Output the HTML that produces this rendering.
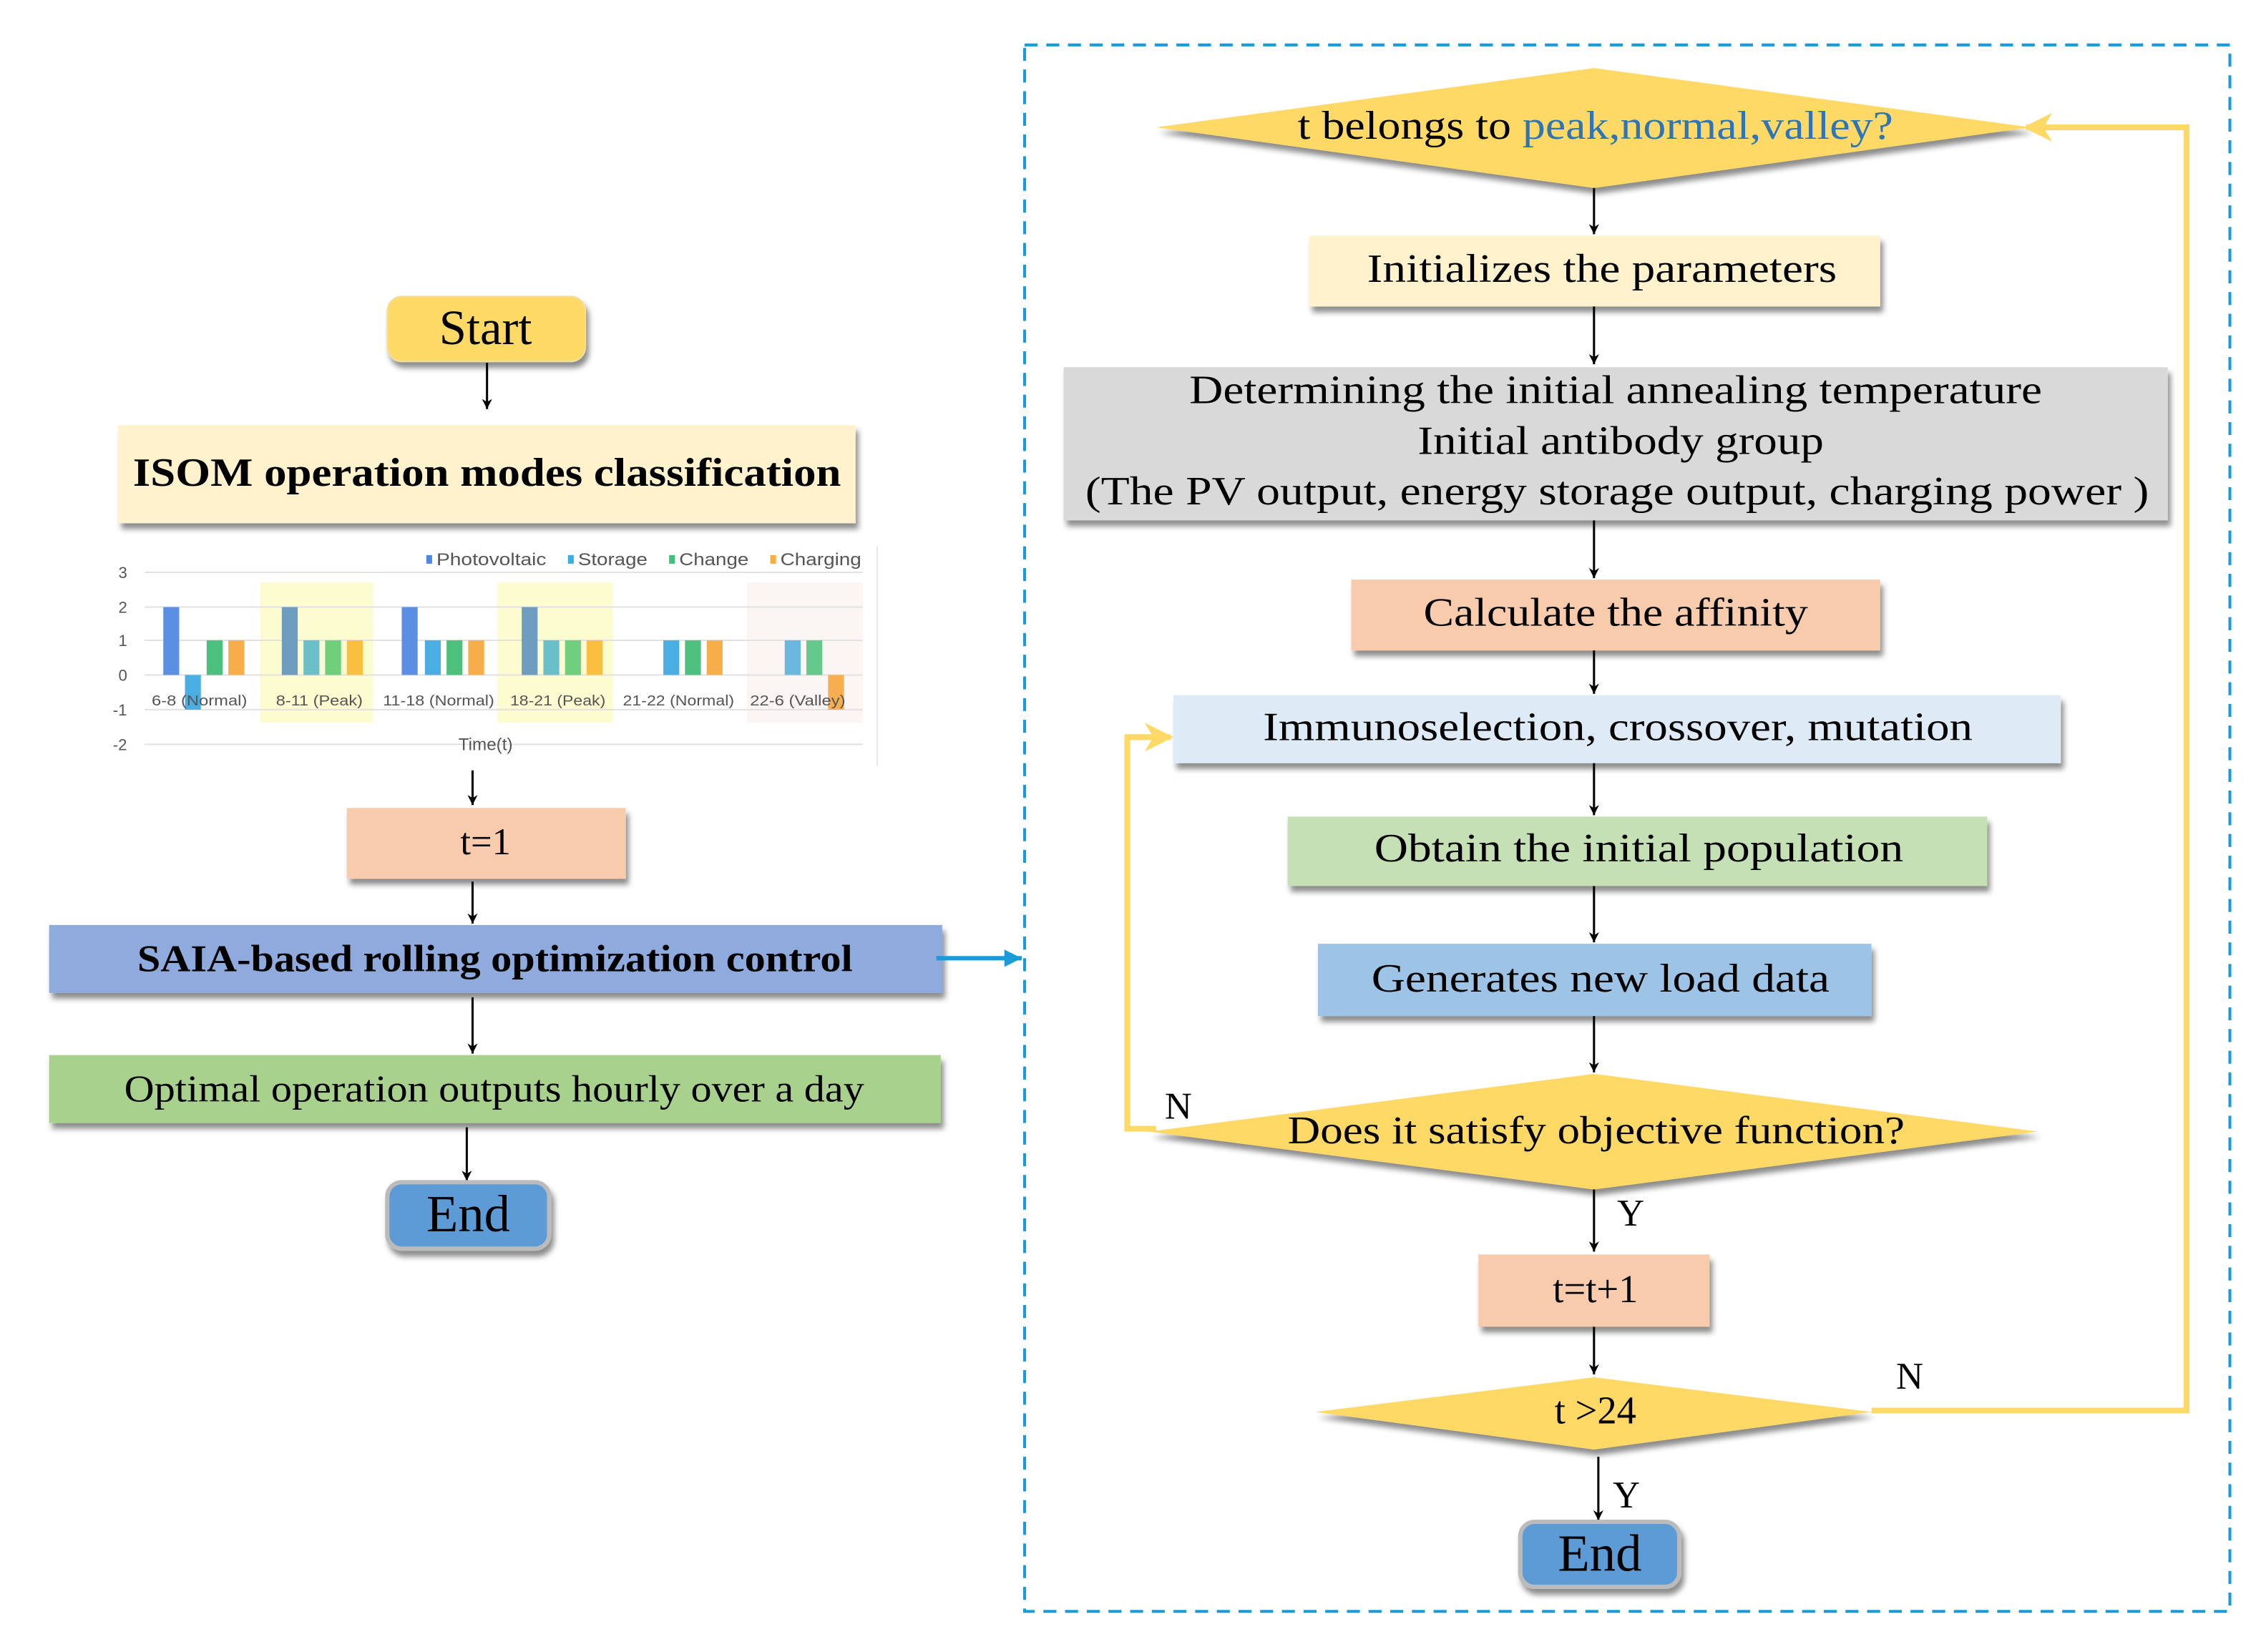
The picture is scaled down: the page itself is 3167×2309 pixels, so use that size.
<!DOCTYPE html>
<html><head><meta charset="utf-8"><style>
html,body{margin:0;padding:0;background:#fff;}
svg{display:block;}
text{font-family:"Liberation Serif",serif;fill:#000;}
.c{font-family:"Liberation Sans",sans-serif;fill:#555;}
</style></head><body>
<svg width="3167" height="2309" viewBox="0 0 1568 1143" xmlns="http://www.w3.org/2000/svg">
<defs>
<filter id="sh" x="-10%" y="-20%" width="120%" height="160%"><feDropShadow dx="2" dy="4" stdDeviation="2" flood-color="#000" flood-opacity="0.45"/></filter>
<marker id="ar" viewBox="0 0 10 10" refX="10" refY="5" markerWidth="7" markerHeight="9" orient="auto" markerUnits="userSpaceOnUse"><path d="M0,0 L10,5 L0,10 L3,5 z" fill="#000"/></marker>
<marker id="ab" viewBox="0 0 10 10" refX="10" refY="5" markerWidth="12" markerHeight="12" orient="auto" markerUnits="userSpaceOnUse"><path d="M0,0 L10,5 L0,10 z" fill="#1a9bd7"/></marker>
<marker id="ay" viewBox="0 0 10 10" refX="9" refY="5" markerWidth="20" markerHeight="20" orient="auto" markerUnits="userSpaceOnUse"><path d="M0,0 L10,5 L0,10 L3,5 z" fill="#ffd966"/></marker>
</defs>
<rect x="709" y="31" width="834" height="1084" fill="none" stroke="#1a9bd7" stroke-width="2" stroke-dasharray="9,6"/>

<!-- LEFT -->
<rect x="268" y="205" width="137" height="45" rx="10" fill="#ffd966" stroke="#f0e0a0" filter="url(#sh)"/>
<text x="336" y="238" font-size="34" text-anchor="middle">Start</text>
<line x1="337" y1="251" x2="337" y2="283" stroke="#000" stroke-width="1.5" marker-end="url(#ar)"/>
<rect x="82" y="294" width="510" height="68" fill="#fff2cc" filter="url(#sh)"/>
<text x="92" y="336" font-size="28" font-weight="bold" textLength="490" lengthAdjust="spacingAndGlyphs">ISOM operation modes classification</text>

<g>
<rect x="180" y="403" width="78" height="97" fill="#fdfbd0"/>
<rect x="344" y="403" width="80" height="97" fill="#fdfbd0"/>
<rect x="517" y="403" width="80" height="97" fill="#fbf5f3"/>
<g stroke="#e2e2e2" stroke-width="1">
<line x1="100" y1="396" x2="597" y2="396"/><line x1="100" y1="420" x2="597" y2="420"/>
<line x1="100" y1="443" x2="597" y2="443"/><line x1="100" y1="467" x2="597" y2="467"/>
<line x1="100" y1="491" x2="597" y2="491"/><line x1="100" y1="515" x2="597" y2="515"/>
</g>
<line x1="607" y1="378" x2="607" y2="530" stroke="#e8e8e8"/>
<g font-size="11">
<text class="c" x="85" y="400" text-anchor="middle">3</text><text class="c" x="85" y="424" text-anchor="middle">2</text>
<text class="c" x="85" y="447" text-anchor="middle">1</text><text class="c" x="85" y="471" text-anchor="middle">0</text>
<text class="c" x="83" y="495" text-anchor="middle">-1</text><text class="c" x="83" y="519" text-anchor="middle">-2</text>
</g>
<rect x="295" y="384" width="4" height="6" fill="#4f86e0"/><text class="c" x="302" y="391" font-size="12" textLength="76" lengthAdjust="spacingAndGlyphs">Photovoltaic</text>
<rect x="393" y="384" width="4" height="6" fill="#3aaee4"/><text class="c" x="400" y="391" font-size="12" textLength="48" lengthAdjust="spacingAndGlyphs">Storage</text>
<rect x="463" y="384" width="4" height="6" fill="#3cc27b"/><text class="c" x="470" y="391" font-size="12" textLength="48" lengthAdjust="spacingAndGlyphs">Change</text>
<rect x="533" y="384" width="4" height="6" fill="#f8ad3c"/><text class="c" x="540" y="391" font-size="12" textLength="56" lengthAdjust="spacingAndGlyphs">Charging</text>
<rect x="113" y="420" width="11" height="47" fill="#5b8fe4"/>
<rect x="128" y="467" width="11" height="24" fill="#4aaee3"/>
<rect x="143" y="443" width="11" height="24" fill="#4cc17e"/>
<rect x="158" y="443" width="11" height="24" fill="#f8ae48"/>
<rect x="195" y="420" width="11" height="47" fill="#6e9dc0"/>
<rect x="210" y="443" width="11" height="24" fill="#6abfc8"/>
<rect x="225" y="443" width="11" height="24" fill="#6fcf7c"/>
<rect x="240" y="443" width="11" height="24" fill="#fbbf40"/>
<rect x="278" y="420" width="11" height="47" fill="#5b8fe4"/>
<rect x="294" y="443" width="11" height="24" fill="#4aaee3"/>
<rect x="309" y="443" width="11" height="24" fill="#4cc17e"/>
<rect x="324" y="443" width="11" height="24" fill="#f8ae48"/>
<rect x="361" y="420" width="11" height="47" fill="#6e9dc0"/>
<rect x="376" y="443" width="11" height="24" fill="#6abfc8"/>
<rect x="391" y="443" width="11" height="24" fill="#6fcf7c"/>
<rect x="406" y="443" width="11" height="24" fill="#fbbf40"/>
<rect x="459" y="443" width="11" height="24" fill="#4aaee3"/>
<rect x="474" y="443" width="11" height="24" fill="#4cc17e"/>
<rect x="489" y="443" width="11" height="24" fill="#f8ae48"/>
<rect x="543" y="443" width="11" height="24" fill="#6ab8e0"/>
<rect x="558" y="443" width="11" height="24" fill="#66c98c"/>
<rect x="573" y="467" width="11" height="24" fill="#f6ae50"/>
<g font-size="10">
<text class="c" x="105" y="488" textLength="66" lengthAdjust="spacingAndGlyphs">6-8  (Normal)</text>
<text class="c" x="191" y="488" textLength="60" lengthAdjust="spacingAndGlyphs">8-11  (Peak)</text>
<text class="c" x="265" y="488" textLength="77" lengthAdjust="spacingAndGlyphs">11-18  (Normal)</text>
<text class="c" x="353" y="488" textLength="66" lengthAdjust="spacingAndGlyphs">18-21  (Peak)</text>
<text class="c" x="431" y="488" textLength="77" lengthAdjust="spacingAndGlyphs">21-22  (Normal)</text>
<text class="c" x="519" y="488" textLength="66" lengthAdjust="spacingAndGlyphs">22-6  (Valley)</text>
</g>
<text class="c" x="336" y="519" font-size="12" text-anchor="middle">Time(t)</text>
</g>

<line x1="327" y1="533" x2="327" y2="557" stroke="#000" stroke-width="1.5" marker-end="url(#ar)"/>
<rect x="240" y="559" width="193" height="49" fill="#f8cbad" filter="url(#sh)"/>
<text x="336" y="591" font-size="26" text-anchor="middle">t=1</text>
<line x1="327" y1="610" x2="327" y2="639" stroke="#000" stroke-width="1.5" marker-end="url(#ar)"/>
<rect x="34" y="640" width="618" height="47" fill="#8faadc" filter="url(#sh)"/>
<text x="95" y="672" font-size="26" font-weight="bold" textLength="495" lengthAdjust="spacingAndGlyphs">SAIA-based rolling optimization control</text>
<line x1="648" y1="663" x2="707" y2="663" stroke="#1a9bd7" stroke-width="3" marker-end="url(#ab)"/>
<line x1="327" y1="690" x2="327" y2="729" stroke="#000" stroke-width="1.5" marker-end="url(#ar)"/>
<rect x="34" y="730" width="617" height="47" fill="#a9d18e" filter="url(#sh)"/>
<text x="86" y="762" font-size="26" textLength="512" lengthAdjust="spacingAndGlyphs">Optimal operation outputs hourly over a day</text>
<line x1="323" y1="780" x2="323" y2="817" stroke="#000" stroke-width="1.5" marker-end="url(#ar)"/>
<rect x="268" y="818" width="112" height="46" rx="10" fill="#5b9bd5" stroke="#bbb" stroke-width="3" filter="url(#sh)"/>
<text x="324" y="852" font-size="36" text-anchor="middle">End</text>

<!-- RIGHT -->
<polygon points="800,88 1103,47 1405,88 1103,130" fill="#ffd966" filter="url(#sh)"/>
<text x="898" y="96" font-size="28" textLength="412" lengthAdjust="spacingAndGlyphs">t belongs to <tspan style="fill:#2e75b6">peak,normal,valley?</tspan></text>
<line x1="1103" y1="130" x2="1103" y2="162" stroke="#000" stroke-width="1.5" marker-end="url(#ar)"/>
<rect x="906" y="163" width="395" height="49" fill="#fff2cc" filter="url(#sh)"/>
<text x="946" y="195" font-size="28" textLength="325" lengthAdjust="spacingAndGlyphs">Initializes the parameters</text>
<line x1="1103" y1="212" x2="1103" y2="252" stroke="#000" stroke-width="1.5" marker-end="url(#ar)"/>
<rect x="736" y="254" width="764" height="106" fill="#d9d9d9" filter="url(#sh)"/>
<text x="823" y="279" font-size="28" textLength="590" lengthAdjust="spacingAndGlyphs">Determining the initial annealing temperature</text>
<text x="981" y="314" font-size="28" textLength="281" lengthAdjust="spacingAndGlyphs">Initial antibody group</text>
<text x="751" y="349" font-size="28" textLength="736" lengthAdjust="spacingAndGlyphs">(The PV output, energy storage output,  charging power )</text>
<line x1="1103" y1="360" x2="1103" y2="400" stroke="#000" stroke-width="1.5" marker-end="url(#ar)"/>
<rect x="935" y="401" width="366" height="49" fill="#f8cbad" filter="url(#sh)"/>
<text x="985" y="433" font-size="28" textLength="266" lengthAdjust="spacingAndGlyphs">Calculate the affinity</text>
<line x1="1103" y1="450" x2="1103" y2="480" stroke="#000" stroke-width="1.5" marker-end="url(#ar)"/>
<rect x="812" y="481" width="614" height="47" fill="#deebf7" filter="url(#sh)"/>
<text x="874" y="512" font-size="28" textLength="491" lengthAdjust="spacingAndGlyphs">Immunoselection, crossover, mutation</text>
<line x1="1103" y1="528" x2="1103" y2="564" stroke="#000" stroke-width="1.5" marker-end="url(#ar)"/>
<rect x="891" y="565" width="484" height="48" fill="#c5e0b4" filter="url(#sh)"/>
<text x="951" y="596" font-size="28" textLength="366" lengthAdjust="spacingAndGlyphs">Obtain the initial population</text>
<line x1="1103" y1="613" x2="1103" y2="652" stroke="#000" stroke-width="1.5" marker-end="url(#ar)"/>
<rect x="912" y="653" width="383" height="50" fill="#9dc3e6" filter="url(#sh)"/>
<text x="949" y="686" font-size="28" textLength="317" lengthAdjust="spacingAndGlyphs">Generates new load data</text>
<line x1="1103" y1="703" x2="1103" y2="742" stroke="#000" stroke-width="1.5" marker-end="url(#ar)"/>
<polygon points="795,783 1103,743 1410,783 1103,823" fill="#ffd966" filter="url(#sh)"/>
<text x="891" y="791" font-size="27" textLength="427" lengthAdjust="spacingAndGlyphs">Does it satisfy objective function?</text>
<polyline points="800,781 780,781 780,510 810,510" fill="none" stroke="#ffd966" stroke-width="4" marker-end="url(#ay)"/>
<text x="806" y="774" font-size="26">N</text>
<line x1="1103" y1="823" x2="1103" y2="866" stroke="#000" stroke-width="1.5" marker-end="url(#ar)"/>
<text x="1119" y="848" font-size="26">Y</text>
<rect x="1023" y="868" width="160" height="50" fill="#f8cbad" filter="url(#sh)"/>
<text x="1104" y="901" font-size="27" text-anchor="middle">t=t+1</text>
<line x1="1103" y1="918" x2="1103" y2="951" stroke="#000" stroke-width="1.5" marker-end="url(#ar)"/>
<polygon points="910,977 1103,953 1295,977 1103,1003" fill="#ffd966" filter="url(#sh)"/>
<text x="1104" y="985" font-size="27" text-anchor="middle">t &gt;24</text>
<polyline points="1295,976 1513,976 1513,88 1402,88" fill="none" stroke="#ffd966" stroke-width="4" marker-end="url(#ay)"/>
<text x="1312" y="961" font-size="26">N</text>
<line x1="1106" y1="1008" x2="1106" y2="1052" stroke="#000" stroke-width="1.5" marker-end="url(#ar)"/>
<text x="1116" y="1043" font-size="26">Y</text>
<rect x="1052" y="1053" width="110" height="45" rx="10" fill="#5b9bd5" stroke="#bbb" stroke-width="3" filter="url(#sh)"/>
<text x="1107" y="1087" font-size="36" text-anchor="middle">End</text>
</svg>
</body></html>
